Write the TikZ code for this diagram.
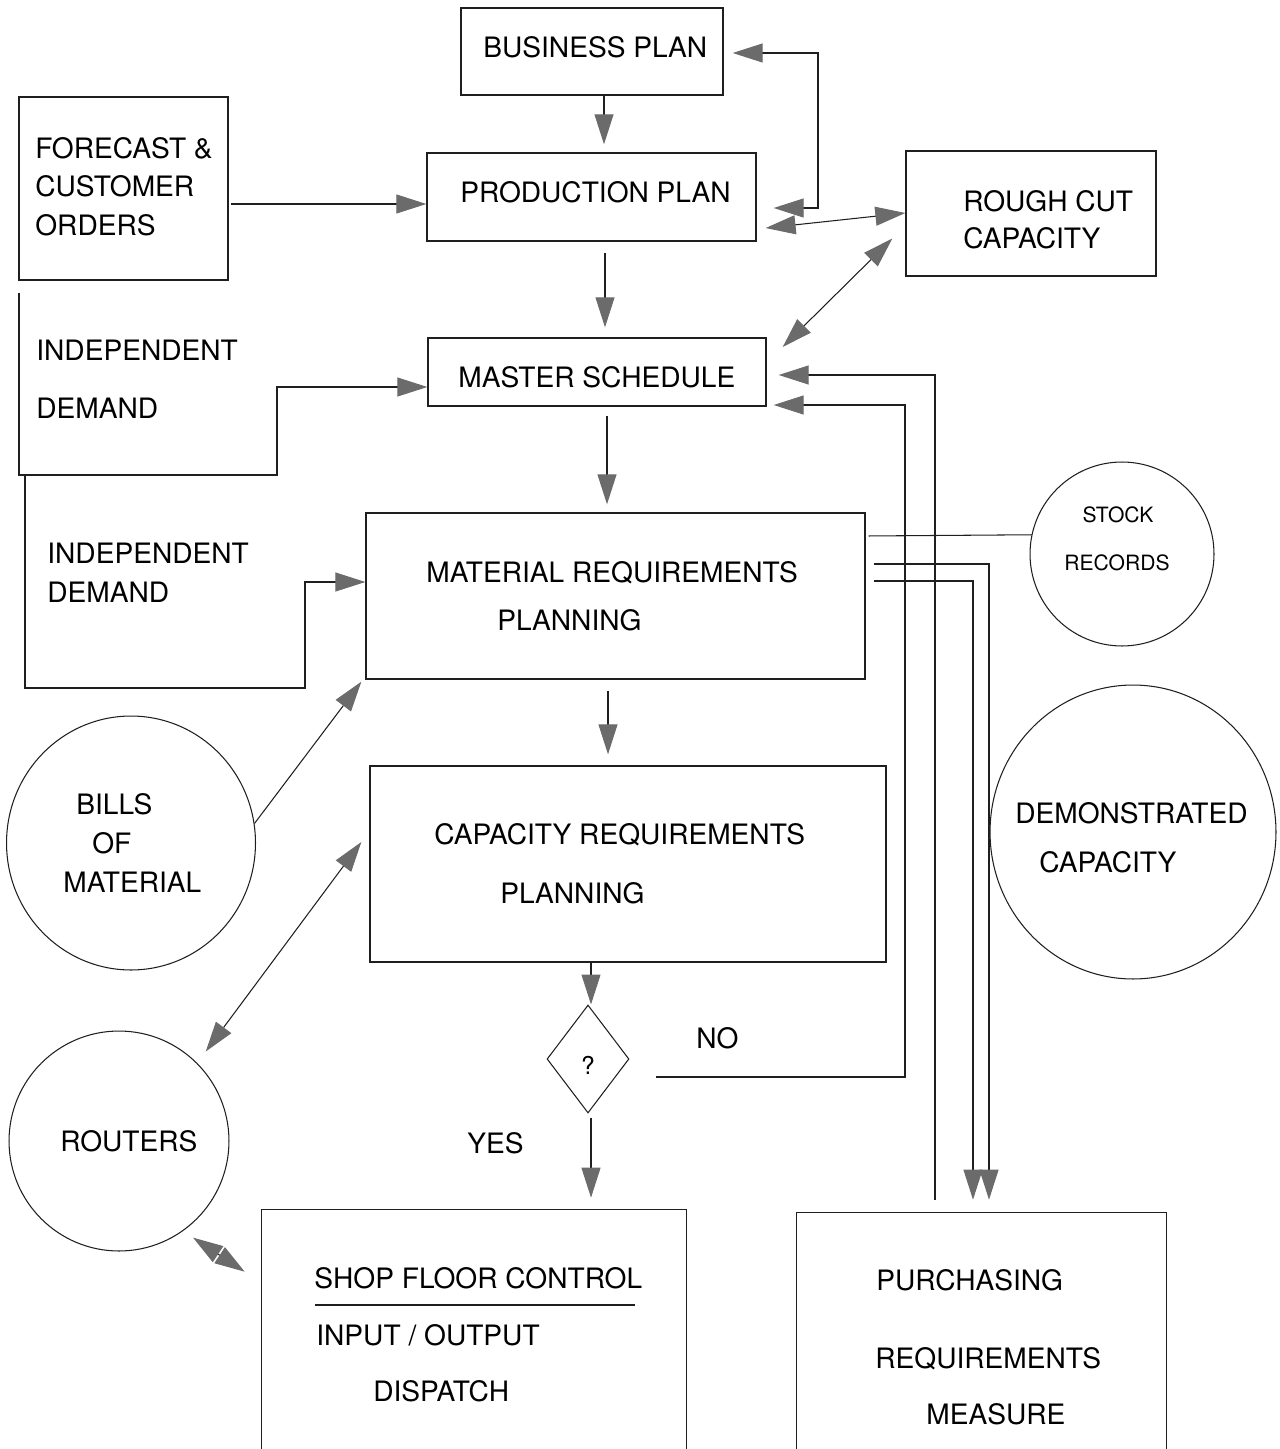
\documentclass[tikz,border=0pt]{standalone}
\usepackage{fontspec}
\setmainfont{TeX Gyre Heros}
\usetikzlibrary{arrows.meta,shapes.geometric,calc}
\definecolor{ink}{gray}{0.12}
\definecolor{tipgray}{gray}{0.42}
\begin{document}
\begin{tikzpicture}[x=0.02cm,y=-0.02cm,
  >={Triangle[length=0.6cm,width=0.38cm,color=tipgray,fill=tipgray]},
  box/.style={draw=ink, line width=0.8pt, rectangle, inner sep=0pt},
  frame/.style={draw=ink, line width=0.8pt},
  ring/.style={draw=ink, line width=0.6pt, circle, inner sep=0pt},
  oval/.style={draw=ink, line width=0.6pt, ellipse, inner sep=0pt},
  lbl/.style={inner sep=0pt, text height=11.5pt, text depth=0pt,
    font=\fontsize{16pt}{19pt}\selectfont, anchor=west},
  small/.style={inner sep=0pt, text height=8.6pt, text depth=0pt,
    font=\fontsize{12pt}{14pt}\selectfont, anchor=center},
  wire/.style={draw=ink, line width=0.6pt},
  arr/.style={wire, ->},
  dbl/.style={wire, <->},
]
\useasboundingbox (0,0) rectangle (1280,1449);

% ---------- boxes ----------
\node[box, minimum width=5.24cm, minimum height=1.74cm] (bp) at (592,51.5) {};
\node[box, minimum width=6.58cm, minimum height=1.76cm] (pp) at (591.5,197) {};
\node[box, minimum width=4.18cm, minimum height=3.66cm] (fc) at (123.5,188.5) {};
\node[box, minimum width=5.0cm, minimum height=2.5cm] (rc) at (1031,213.5) {};
\node[box, minimum width=6.76cm, minimum height=1.36cm] (ms) at (597,372) {};
\node[box, minimum width=9.98cm, minimum height=3.32cm] (mrp) at (615.5,596) {};
\node[box, minimum width=10.32cm, minimum height=3.92cm] (crp) at (628,864) {};
\node[inner sep=0pt, minimum width=8.48cm, minimum height=4.78cm] (sfc) at (474,1329.5) {};
\node[inner sep=0pt, minimum width=7.38cm, minimum height=4.72cm] (pur) at (981.5,1331) {};
\draw[frame] (sfc.south west) |- (sfc.north east) -- (sfc.south east);
\draw[frame] (pur.south west) |- (pur.north east) -- (pur.south east);

% ---------- circles and decision ----------
\node[ring, minimum size=3.68cm] (sr) at (1122,554) {};
\node[oval, minimum width=5.72cm, minimum height=5.88cm] (dc) at (1133,832) {};
\node[oval, minimum width=4.98cm, minimum height=5.08cm] (bm) at (131,843) {};
\node[ring, minimum size=4.4cm] (rt) at (119,1141) {};
\node[draw=ink, line width=0.6pt, diamond, aspect=0.76, minimum width=1.64cm,
      minimum height=2.16cm, inner sep=0pt] (dq) at (588,1059) {};

% ---------- labels ----------
\node[lbl] (tbp) at (483,47) {BUSINESS PLAN};
\node[lbl] (tpp) at (460,192) {PRODUCTION PLAN};
\node[lbl] (tfc1) at (35,148) {FORECAST \&};
\node[lbl] (tfc2) at (35,186) {CUSTOMER};
\node[lbl] (tfc3) at (35,225) {ORDERS};
\node[lbl] (trc1) at (963,201) {ROUGH CUT};
\node[lbl] (trc2) at (963,238) {CAPACITY};
\node[lbl] (tid1) at (36,350) {INDEPENDENT};
\node[lbl] (tid2) at (36,408) {DEMAND};
\node[lbl] (tms) at (458,377) {MASTER SCHEDULE};
\node[lbl] (tid3) at (47,553) {INDEPENDENT};
\node[lbl] (tid4) at (47,592) {DEMAND};
\node[lbl] (tmrp1) at (426,572) {MATERIAL REQUIREMENTS};
\node[lbl] (tmrp2) at (497,620) {PLANNING};
\node[small] (tsr1) at (1118,515) {STOCK};
\node[small] (tsr2) at (1117,563) {RECORDS};
\node[lbl] (tbm1) at (76,804) {BILLS};
\node[lbl] (tbm2) at (92,843) {OF};
\node[lbl] (tbm3) at (63,882) {MATERIAL};
\node[lbl] (tcrp1) at (434,834) {CAPACITY REQUIREMENTS};
\node[lbl] (tcrp2) at (500,893) {PLANNING};
\node[lbl] (tdc1) at (1015,813) {DEMONSTRATED};
\node[lbl] (tdc2) at (1039,862) {CAPACITY};
\node[small, font=\fontsize{14pt}{16pt}\selectfont, text height=10pt] (tq) at (588,1066) {?};
\node[lbl] (tno) at (696,1038) {NO};
\node[lbl] (tyes) at (467,1143) {YES};
\node[lbl] (trt) at (60,1141) {ROUTERS};
\node[lbl] (tsfc1) at (314,1278) {SHOP FLOOR CONTROL};
\draw[wire] (315,1305) -- (635,1305);
\node[lbl] (tsfc2) at (316,1335) {INPUT / OUTPUT};
\node[lbl] (tsfc3) at (373,1391) {DISPATCH};
\node[lbl] (tpur1) at (876,1280) {PURCHASING};
\node[lbl] (tpur2) at (875,1358) {REQUIREMENTS};
\node[lbl] (tpur3) at (926,1414) {MEASURE};

% ---------- independent demand feeds ----------
\draw[arr] (19,293) |- (277,475) |- (ms.west |- 0,387);
\draw[arr] (25,476) |- (305,688) |- (mrp.west |- 0,582);

% ---------- connectors ----------
\draw[arr, shorten >=0.16cm] (bp.south -| 604,0) -- (pp.north -| 604,0);
\draw[arr, shorten <=0.04cm] (fc.east |- 0,204) -- (pp.west |- 0,204);
\draw[dbl, shorten <=0.34cm, shorten >=0.18cm] (pp.east |- 0,208) -| (818,53) -- (bp.east |- 0,53);
\draw[dbl, shorten <=0.18cm] (pp.east |- 0,229) -- (rc.west |- 0,213);
\draw[dbl] ($(rc.west)+(-13,25)$) -- ($(ms.east)+(16,-25)$);
\draw[arr, shorten <=0.22cm, shorten >=0.2cm] (pp.south -| 605,0) -- (ms.north -| 605,0);
\draw[arr, shorten <=0.18cm, shorten >=0.16cm] (ms.south -| 607,0) -- (mrp.north -| 607,0);
\draw[arr, shorten <=0.22cm, shorten >=0.22cm] (mrp.south -| 608,0) -- (crp.north -| 608,0);
\draw[arr] (crp.south -| 591,0) -- (dq.north -| 591,0);
\draw[arr, shorten <=0.08cm, shorten >=0.24cm] (dq.south -| 591,0) -- (sfc.north -| 591,0);
\draw[arr, shorten >=0.14cm] ($(dq.east)+(26,18)$) -| (905,405) -- (ms.east |- 0,405);
\draw[arr, shorten <=0.26cm, shorten >=0.24cm] (pur.north -| 935,0) |- (ms.east |- 0,375);
\draw[arr, shorten <=0.16cm, shorten >=0.26cm] (mrp.east |- 0,564) -| (pur.north -| 989,0);
\draw[arr, shorten <=0.16cm, shorten >=0.26cm] (mrp.east |- 0,581) -| (pur.north -| 973,0);
\draw[wire, shorten <=0.06cm] (mrp.east |- 0,536) -- (sr.168.7);
\draw[arr] (bm.9) -- ($(mrp.south west)+(-4,2)$);
\draw[dbl] ($(crp.west)+(-8,-22)$) -- ($(rt.46)+(10,-10)$);
\draw[dbl] ($(rt.-50)+(3,12)$) -- ($(sfc.north west)+(-17,62)$);
\end{tikzpicture}
\end{document}
